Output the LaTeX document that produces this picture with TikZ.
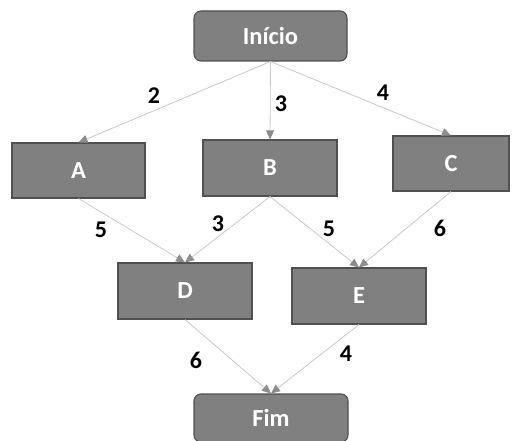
\documentclass[tikz,border=0pt]{standalone}
\usepackage{fontspec}
\setmainfont{Carlito}
\usetikzlibrary{arrows.meta}
\definecolor{boxfill}{HTML}{808080}
\definecolor{boxline}{HTML}{505050}
\definecolor{edgeline}{HTML}{C8C8C8}
\definecolor{tipgray}{HTML}{8C8C8C}
\begin{document}
\begin{tikzpicture}[x=1pt,y=-1pt,
  task/.style={draw=boxline,fill=boxfill,line width=1.1pt,inner sep=0pt,
    text=white,font=\fontsize{24.5}{28}\selectfont\bfseries},
  terminal/.style={task,rounded corners=7pt},
  edge/.style={draw=edgeline,line width=0.8pt,
    -{Triangle[length=9pt,width=8pt,color=tipgray]}},
  wlabel/.style={font=\fontsize{24}{28}\selectfont\bfseries,text=black,inner sep=0pt}]
\useasboundingbox (0,0) rectangle (516,441);
\node[terminal,minimum width=153pt,minimum height=50pt] (ini) at (270.5,36) {Início};
\node[task,minimum width=133pt,minimum height=55pt] (a) at (78.5,170.5) {A};
\node[task,minimum width=134pt,minimum height=56pt] (b) at (270,168) {B};
\node[task,minimum width=116pt,minimum height=55pt] (c) at (451,163.5) {C};
\node[task,minimum width=134pt,minimum height=56pt] (d) at (185,291) {D};
\node[task,minimum width=134pt,minimum height=56pt] (e) at (359,296) {E};
\node[terminal,minimum width=154pt,minimum height=48pt] (fim) at (271,418) {Fim};
\draw[edge] (ini.south) -- (a.north);
\draw[edge] (ini.south) -- (b.north);
\draw[edge] (ini.south) -- (c.north);
\draw[edge] (a.south) -- (d.north);
\draw[edge] (b.south) -- (d.north);
\draw[edge] (b.south) -- (e.north);
\draw[edge] (c.south) -- (e.north);
\draw[edge] (d.south) -- (fim.north);
\draw[edge] (e.south) -- (fim.north);
\node[wlabel] (l1) at (154,96) {2};
\node[wlabel] (l2) at (281,104) {3};
\node[wlabel] (l3) at (383,93) {4};
\node[wlabel] (l4) at (101,230) {5};
\node[wlabel] (l5) at (218,224) {3};
\node[wlabel] (l6) at (329,229) {5};
\node[wlabel] (l7) at (440,228) {6};
\node[wlabel] (l8) at (196,360) {6};
\node[wlabel] (l9) at (346,354) {4};
\end{tikzpicture}
\end{document}
